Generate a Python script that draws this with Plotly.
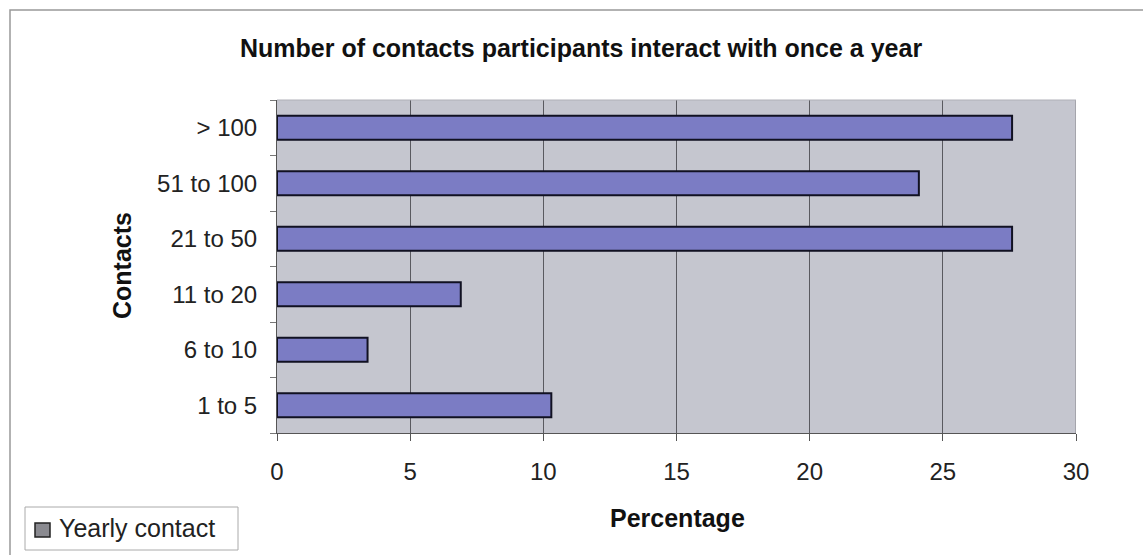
import plotly.graph_objects as go

# Survey results: share of participants by number of yearly contacts
categories = ["1 to 5", "6 to 10", "11 to 20", "21 to 50", "51 to 100", "> 100"]
percentages = [10.3, 3.4, 6.9, 27.6, 24.1, 27.6]
x_ticks = [0, 5, 10, 15, 20, 25, 30]

W, H = 1143, 555
L, R, T, B = 277, 1076, 100, 433

fig = go.Figure()
fig.add_trace(go.Bar(
    y=categories, x=percentages, orientation="h",
    marker=dict(color="#7b7cc4", line=dict(color="#111122", width=2)),
    showlegend=False, hoverinfo="x+y",
))

font = "Liberation Sans, Arial, sans-serif"
TICK = 24

fig.update_layout(
    width=W, height=H,
    margin=dict(l=L, r=W - R, t=T, b=H - B),
    paper_bgcolor="white",
    plot_bgcolor="#c5c6cf",
    bargap=0.57,
    showlegend=False,
    font=dict(family=font, size=TICK, color="#222"),
    xaxis=dict(
        range=[0, 30], tickvals=x_ticks, showgrid=True,
        gridcolor="#5a5a60", gridwidth=1, zeroline=False,
        showline=True, linecolor="#555", linewidth=1, mirror=False,
        ticks="outside", ticklen=7, tickcolor="#555",
        ticklabelstandoff=10,
        tickfont=dict(size=TICK, family=font, color="#222"),
    ),
    yaxis=dict(
        categoryorder="array", categoryarray=categories,
        showgrid=False, zeroline=False,
        showline=True, linecolor="#555", linewidth=1,
        ticks="outside", tickson="boundaries", ticklen=6, tickcolor="#777",
        ticklabelstandoff=14,
        tickfont=dict(size=TICK, family=font, color="#222"),
    ),
)

# right edge of plot area
fig.add_shape(type="line", xref="x", yref="paper", x0=30, x1=30, y0=0, y1=1,
              line=dict(color="#9a9aa0", width=1.5))
# top edge of plot area
fig.add_shape(type="line", xref="paper", yref="paper", x0=0, x1=1, y0=1, y1=1,
              line=dict(color="#b0b0b8", width=1))

# outer chart frame (top and left edges)
def px(xp):
    return (xp - L) / (R - L)

def py(yp):
    return (B - yp) / (B - T)

fig.add_shape(type="rect", xref="paper", yref="paper",
              x0=px(10), x1=px(1160), y0=py(600), y1=py(10),
              line=dict(color="#999", width=1.5), layer="below")

fig.add_annotation(
    text="<b>Number of contacts participants interact with once a year</b>",
    xref="paper", yref="paper", x=px(581), y=py(48),
    showarrow=False, font=dict(size=25, family=font, color="#111"),
    xanchor="center", yanchor="middle",
)
fig.add_annotation(
    text="<b>Percentage</b>", xref="paper", yref="paper",
    x=px(677), y=py(518), showarrow=False,
    font=dict(size=25, family=font, color="#111"),
    xanchor="center", yanchor="middle",
)
fig.add_annotation(
    text="<b>Contacts</b>", xref="paper", yref="paper",
    x=px(122), y=py(266), showarrow=False, textangle=-90,
    font=dict(size=25, family=font, color="#111"),
    xanchor="center", yanchor="middle",
)

# legend box
fig.add_shape(type="rect", xref="paper", yref="paper",
              x0=px(25), x1=px(238), y0=py(550), y1=py(507),
              line=dict(color="#aaa", width=1), fillcolor="white")
fig.add_shape(type="rect", xref="paper", yref="paper",
              x0=px(35), x1=px(50), y0=py(537), y1=py(523),
              line=dict(color="#222", width=1.5), fillcolor="#8a8a90")
fig.add_annotation(
    text="Yearly contact", xref="paper", yref="paper",
    x=px(57), y=py(528), showarrow=False,
    font=dict(size=25, family=font, color="#222"),
    xanchor="left", yanchor="middle",
)

fig.write_html("out.html")
